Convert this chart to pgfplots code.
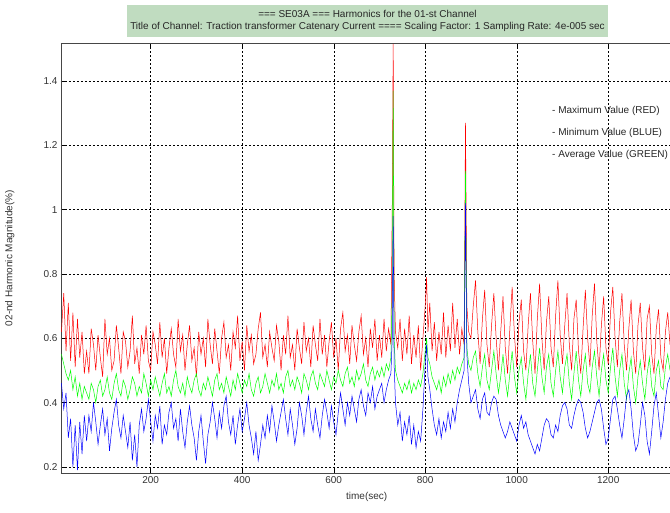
\documentclass[border=0pt]{standalone}
\usepackage{pgfplots}
\pgfplotsset{compat=1.18}
\usepackage{pgfplotstable}
\usepackage{fontspec}
\setmainfont{Liberation Sans}
\definecolor{titlegreen}{RGB}{192,220,192}
\definecolor{spine}{RGB}{70,70,70}

% x  max(red)  min(blue)  avg(green)
\pgfplotstableread{
x r b g
5 .62 .46 .55
10 .74 .38 .52
15 .56 .43 .49
20 .71 .29 .47
25 .53 .35 .50
30 .68 .20 .44
35 .51 .33 .48
40 .66 .19 .42
45 .54 .34 .46
50 .62 .24 .41
55 .49 .36 .45
60 .56 .28 .43
65 .49 .36 .41
70 .63 .31 .46
75 .58 .40 .44
80 .50 .34 .40
85 .61 .27 .45
90 .54 .33 .47
95 .48 .38 .42
100 .66 .30 .44
105 .55 .35 .48
110 .60 .25 .43
115 .50 .32 .41
120 .53 .37 .46
125 .64 .41 .49
130 .57 .33 .44
135 .49 .29 .42
140 .62 .36 .47
145 .59 .31 .45
150 .51 .26 .41
155 .56 .34 .44
160 .67 .22 .48
165 .52 .30 .46
170 .57 .20 .42
175 .49 .33 .45
180 .61 .38 .43
185 .55 .31 .49
190 .64 .35 .46
195 .53 .41 .42
200 .50 .34 .47
205 .62 .28 .44
210 .58 .36 .48
215 .52 .32 .45
220 .65 .39 .42
225 .54 .27 .46
230 .60 .33 .49
235 .49 .30 .43
240 .57 .37 .45
245 .63 .40 .42
250 .55 .32 .47
255 .51 .35 .50
260 .66 .28 .45
265 .56 .38 .43
270 .61 .31 .46
275 .50 .26 .42
280 .58 .34 .48
285 .64 .39 .45
290 .53 .33 .43
295 .57 .29 .47
300 .48 .22 .49
305 .62 .31 .44
310 .55 .36 .42
315 .60 .28 .46
320 .51 .21 .44
325 .66 .30 .48
330 .58 .34 .45
335 .52 .40 .42
340 .63 .35 .47
345 .56 .29 .49
350 .49 .37 .44
355 .60 .32 .46
360 .65 .39 .43
365 .54 .42 .48
370 .58 .34 .45
375 .50 .30 .42
380 .62 .36 .47
385 .57 .27 .44
390 .67 .33 .49
395 .53 .38 .46
400 .59 .31 .43
405 .50 .35 .47
410 .64 .40 .45
415 .56 .33 .49
420 .61 .29 .44
425 .52 .24 .42
430 .55 .31 .46
435 .63 .22 .48
440 .68 .27 .43
445 .54 .33 .45
450 .58 .29 .49
455 .51 .36 .46
460 .62 .31 .43
465 .57 .39 .47
470 .53 .34 .45
475 .64 .28 .49
480 .59 .33 .44
485 .50 .37 .46
490 .61 .41 .43
495 .55 .35 .48
500 .67 .30 .50
505 .54 .38 .45
510 .58 .33 .47
515 .50 .27 .44
520 .63 .32 .48
525 .57 .40 .46
530 .52 .36 .43
535 .65 .30 .49
540 .56 .37 .47
545 .60 .42 .44
550 .51 .35 .48
555 .64 .31 .50
560 .58 .38 .46
565 .53 .33 .44
570 .66 .29 .49
575 .55 .36 .47
580 .61 .41 .45
585 .51 .37 .50
590 .59 .32 .47
595 .65 .39 .44
600 .54 .34 .48
605 .60 .30 .46
610 .50 .37 .50
615 .63 .43 .47
620 .68 .38 .45
625 .56 .33 .49
630 .61 .40 .51
635 .52 .36 .46
640 .64 .42 .48
645 .58 .38 .45
650 .53 .34 .50
655 .62 .41 .47
660 .67 .44 .49
665 .55 .39 .52
670 .60 .36 .47
675 .51 .43 .45
680 .63 .40 .49
685 .57 .45 .51
690 .66 .38 .47
695 .53 .42 .50
700 .61 .44 .48
705 .54 .46 .51
710 .66 .40 .48
715 .56 .44 .52
720 .63 .47 .50
725 .58 .49 .54
728 1.02 .60 .75
730 1.515 .98 1.37
732 .80 .52 .60
735 .62 .40 .50
740 .57 .33 .47
745 .66 .37 .45
750 .53 .28 .43
755 .63 .34 .46
760 .55 .30 .44
765 .67 .36 .47
770 .52 .27 .43
775 .61 .33 .46
780 .54 .26 .44
785 .64 .31 .47
790 .50 .28 .45
795 .60 .38 .49
800 .70 .52 .56
803 .79 .58 .60
806 .62 .48 .54
810 .71 .44 .52
815 .56 .38 .48
820 .65 .33 .46
825 .53 .30 .44
830 .62 .35 .47
835 .55 .29 .43
840 .68 .34 .48
845 .54 .31 .45
850 .64 .37 .49
855 .56 .32 .46
860 .71 .38 .50
865 .57 .34 .47
870 .66 .40 .51
875 .55 .44 .49
880 .63 .47 .52
885 .58 .50 .54
888 1.27 1.02 1.12
891 .70 .55 .57
895 .62 .46 .52
900 .60 .40 .50
905 .70 .42 .54
910 .78 .44 .56
915 .62 .38 .49
920 .52 .35 .45
925 .66 .41 .51
930 .75 .43 .55
935 .58 .37 .47
940 .51 .36 .44
945 .64 .40 .50
950 .74 .42 .56
955 .60 .41 .49
960 .50 .36 .43
965 .62 .33 .48
970 .73 .31 .55
975 .57 .29 .47
980 .49 .31 .42
985 .63 .34 .49
990 .76 .32 .56
995 .61 .30 .48
1000 .51 .28 .43
1005 .65 .33 .50
1010 .72 .36 .54
1015 .56 .32 .46
1020 .50 .34 .41
1025 .64 .30 .49
1030 .74 .28 .55
1035 .59 .26 .46
1040 .49 .24 .42
1045 .66 .27 .50
1050 .77 .25 .57
1055 .60 .29 .48
1060 .50 .33 .43
1065 .65 .35 .51
1070 .73 .34 .55
1075 .57 .30 .46
1080 .51 .29 .42
1085 .67 .33 .50
1090 .78 .31 .56
1095 .61 .36 .48
1100 .52 .39 .43
1105 .64 .40 .51
1110 .74 .38 .55
1115 .58 .33 .46
1120 .50 .32 .41
1125 .66 .36 .49
1130 .72 .39 .56
1135 .56 .41 .47
1140 .49 .40 .42
1145 .63 .37 .50
1150 .75 .32 .55
1155 .60 .29 .46
1160 .51 .31 .43
1165 .67 .34 .51
1170 .77 .37 .56
1175 .59 .40 .48
1180 .50 .41 .42
1185 .64 .38 .50
1190 .73 .32 .55
1195 .57 .27 .47
1200 .52 .29 .43
1205 .68 .35 .51
1210 .76 .41 .57
1215 .60 .42 .48
1220 .51 .38 .42
1225 .65 .33 .50
1230 .74 .29 .55
1235 .58 .35 .46
1240 .50 .42 .41
1245 .63 .44 .49
1250 .72 .38 .54
1255 .56 .30 .45
1260 .49 .25 .40
1265 .64 .27 .48
1270 .71 .33 .53
1275 .57 .40 .46
1280 .50 .36 .41
1285 .66 .28 .49
1290 .70 .24 .54
1295 .55 .31 .45
1300 .49 .39 .42
1305 .63 .43 .50
1310 .69 .36 .53
1315 .54 .29 .45
1320 .50 .34 .44
1325 .62 .41 .51
1330 .68 .46 .55
1335 .58 .48 .50
}\harm

\begin{document}
\begin{tikzpicture}
\useasboundingbox (0,0) rectangle (670pt,512pt);
\begin{axis}[
    at={(61pt,39pt)}, anchor=south west,
    scale only axis, width=609pt, height=430pt,
    xmin=4, xmax=1335, ymin=0.181, ymax=1.518,
    xtick={200,400,...,1200},
    ytick={0.2,0.4,0.6,0.8,1,1.2,1.4},
    yticklabels={0.2,0.4,0.6,0.8,1,1.2,1.4},
    axis x line*=box, axis y line*=left,
    axis line style={spine, line width=0.8pt},
    tick align=inside, major tick length=4pt,
    tick style={black, line width=0.4pt},
    grid=major,
    major grid style={black, line width=0.4pt, dash pattern=on 2pt off 2pt},
    /pgf/number format/assume math mode=true,
    /pgf/number format/1000 sep={},
    tick label style={font=\fontsize{10}{12}\selectfont, text=black!80},
    label style={font=\fontsize{10}{12}\selectfont, text=black!80},
    xlabel={time(sec)},
    ylabel={02-nd Harmonic Magnitude(\%)},
    xlabel style={at={(axis description cs:0.502,-0.056)}, anchor=center},
    ylabel style={at={(axis description cs:-0.084,0.5)}, anchor=center},
    clip=false,
]
\addplot[red, line width=0.5pt] table[x=x, y=r] {\harm};
\addplot[green, line width=0.5pt] table[x=x, y=g] {\harm};
\addplot[blue, line width=0.5pt] table[x=x, y=b] {\harm};
\end{axis}
\node[fill=titlegreen, minimum width=481pt, minimum height=32pt, inner sep=0pt,
      align=center, font=\fontsize{10}{12.5}\selectfont, text=black!85]
  at (367.5pt,491pt) {=== SE03A === Harmonics for the 01-st Channel\\
  Title of Channel: Traction transformer Catenary Current ==== Scaling Factor: 1 Sampling Rate: 4e-005 sec};
\begin{scope}[every node/.style={anchor=west, inner sep=0pt, font=\fontsize{10}{12}\selectfont, text=black!85}]
\node at (552pt,401pt) {- Maximum Value (RED)};
\node at (552pt,379pt) {- Minimum Value (BLUE)};
\node at (552pt,357pt) {- Average Value (GREEN)};
\end{scope}
\end{tikzpicture}
\end{document}
